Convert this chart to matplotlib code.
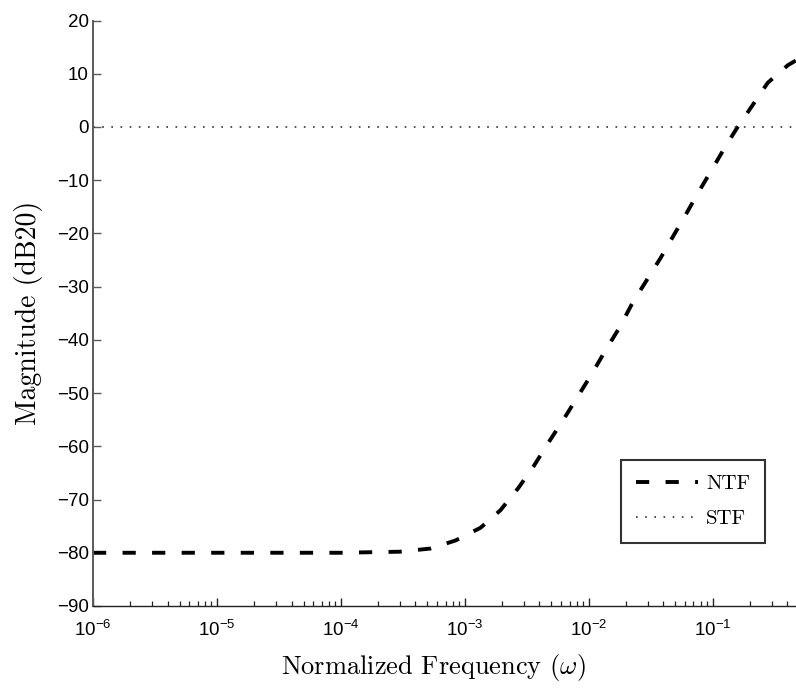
import matplotlib
matplotlib.use("Agg")
import matplotlib.pyplot as plt
from matplotlib.ticker import LogLocator, FixedLocator, NullFormatter

# Noise and signal transfer function magnitudes (dB20) vs normalized frequency
freq = [1e-6, 1e-5, 1e-4, 3e-4, 5.3e-4, 8.4e-4, 1.34e-3, 1.94e-3, 2.71e-3,
        3.58e-3, 4.73e-3, 6.24e-3, 8.13e-3, 1.07e-2, 1.37e-2, 1.78e-2,
        2.26e-2, 2.88e-2, 3.8e-2, 4.75e-2, 6.05e-2, 7.7e-2, 9.8e-2, 0.125,
        0.159, 0.21, 0.278, 0.404, 0.47]
ntf_db = [-80, -80, -80, -79.8, -79.2, -77.7, -75.3, -72, -67.8,
          -63.8, -59.3, -55, -50.7, -46.2, -41.9, -37.6,
          -33, -29.1, -24.6, -20.7, -16.5, -12.2, -8.1, -3.9,
          0, 4.1, 8.3, 11.6, 12.5]
stf_freq = [1e-6, 0.47]
stf_db = [0, 0]

yticks = [-90, -80, -70, -60, -50, -40, -30, -20, -10, 0, 10, 20]
xticks = [1e-6, 1e-5, 1e-4, 1e-3, 1e-2, 1e-1]

plt.rcParams["font.family"] = ["Liberation Sans", "DejaVu Sans"]
plt.rcParams["mathtext.fontset"] = "cm"

fig = plt.figure(figsize=(7.96, 6.88), dpi=100)
ax = fig.add_axes([0.1168, 0.1192, 0.8832, 0.8510])

ax.plot(freq, ntf_db, color="black", lw=2.8, linestyle=(0, (3.4, 4.2)),
        label="NTF")
ax.plot(stf_freq, stf_db, color="#333333", lw=1.2, linestyle=(0, (1, 4.5)),
        label="STF")

ax.set_xscale("log")
ax.set_xlim(1e-6, 0.47)
ax.set_ylim(-90, 20)
ax.xaxis.set_major_locator(FixedLocator(xticks))
ax.xaxis.set_minor_locator(LogLocator(base=10, subs=range(2, 10), numticks=20))
ax.xaxis.set_minor_formatter(NullFormatter())
ax.set_yticks(yticks)

for side in ("top", "right"):
    ax.spines[side].set_visible(False)
ax.spines["left"].set_color("#5a5a5a")
ax.spines["left"].set_linewidth(1.4)
ax.spines["bottom"].set_color("#222222")
ax.spines["bottom"].set_linewidth(1.0)

ax.tick_params(axis="both", which="major", direction="in", length=6,
               width=1.0, labelsize=13.5)
ax.tick_params(axis="x", which="minor", direction="in", length=3.5, width=0.9)
ax.tick_params(axis="x", which="both", colors="#222222", labelcolor="black")
ax.tick_params(axis="x", which="major", pad=10)
ax.tick_params(axis="y", which="major", pad=3, colors="#5a5a5a",
               labelcolor="black")

ax.set_xlabel(r"Normalized Frequency ($\omega$)", fontfamily="cmr10",
              fontsize=19, labelpad=9)
ax.xaxis.label.set_x(0.4836)
ax.set_ylabel("Magnitude (dB20)", fontfamily="cmr10", fontsize=20,
              labelpad=10)

leg = ax.legend(loc="lower right", bbox_to_anchor=(0.956, 0.1076),
                borderaxespad=0, fancybox=False, frameon=True,
                prop={"family": "cmr10", "size": 15}, handlelength=3.0,
                handletextpad=0.4, borderpad=0.7, labelspacing=0.8)
leg.get_frame().set_edgecolor("black")
leg.get_frame().set_linewidth(1.5)

fig.savefig("out.png", dpi=100)
